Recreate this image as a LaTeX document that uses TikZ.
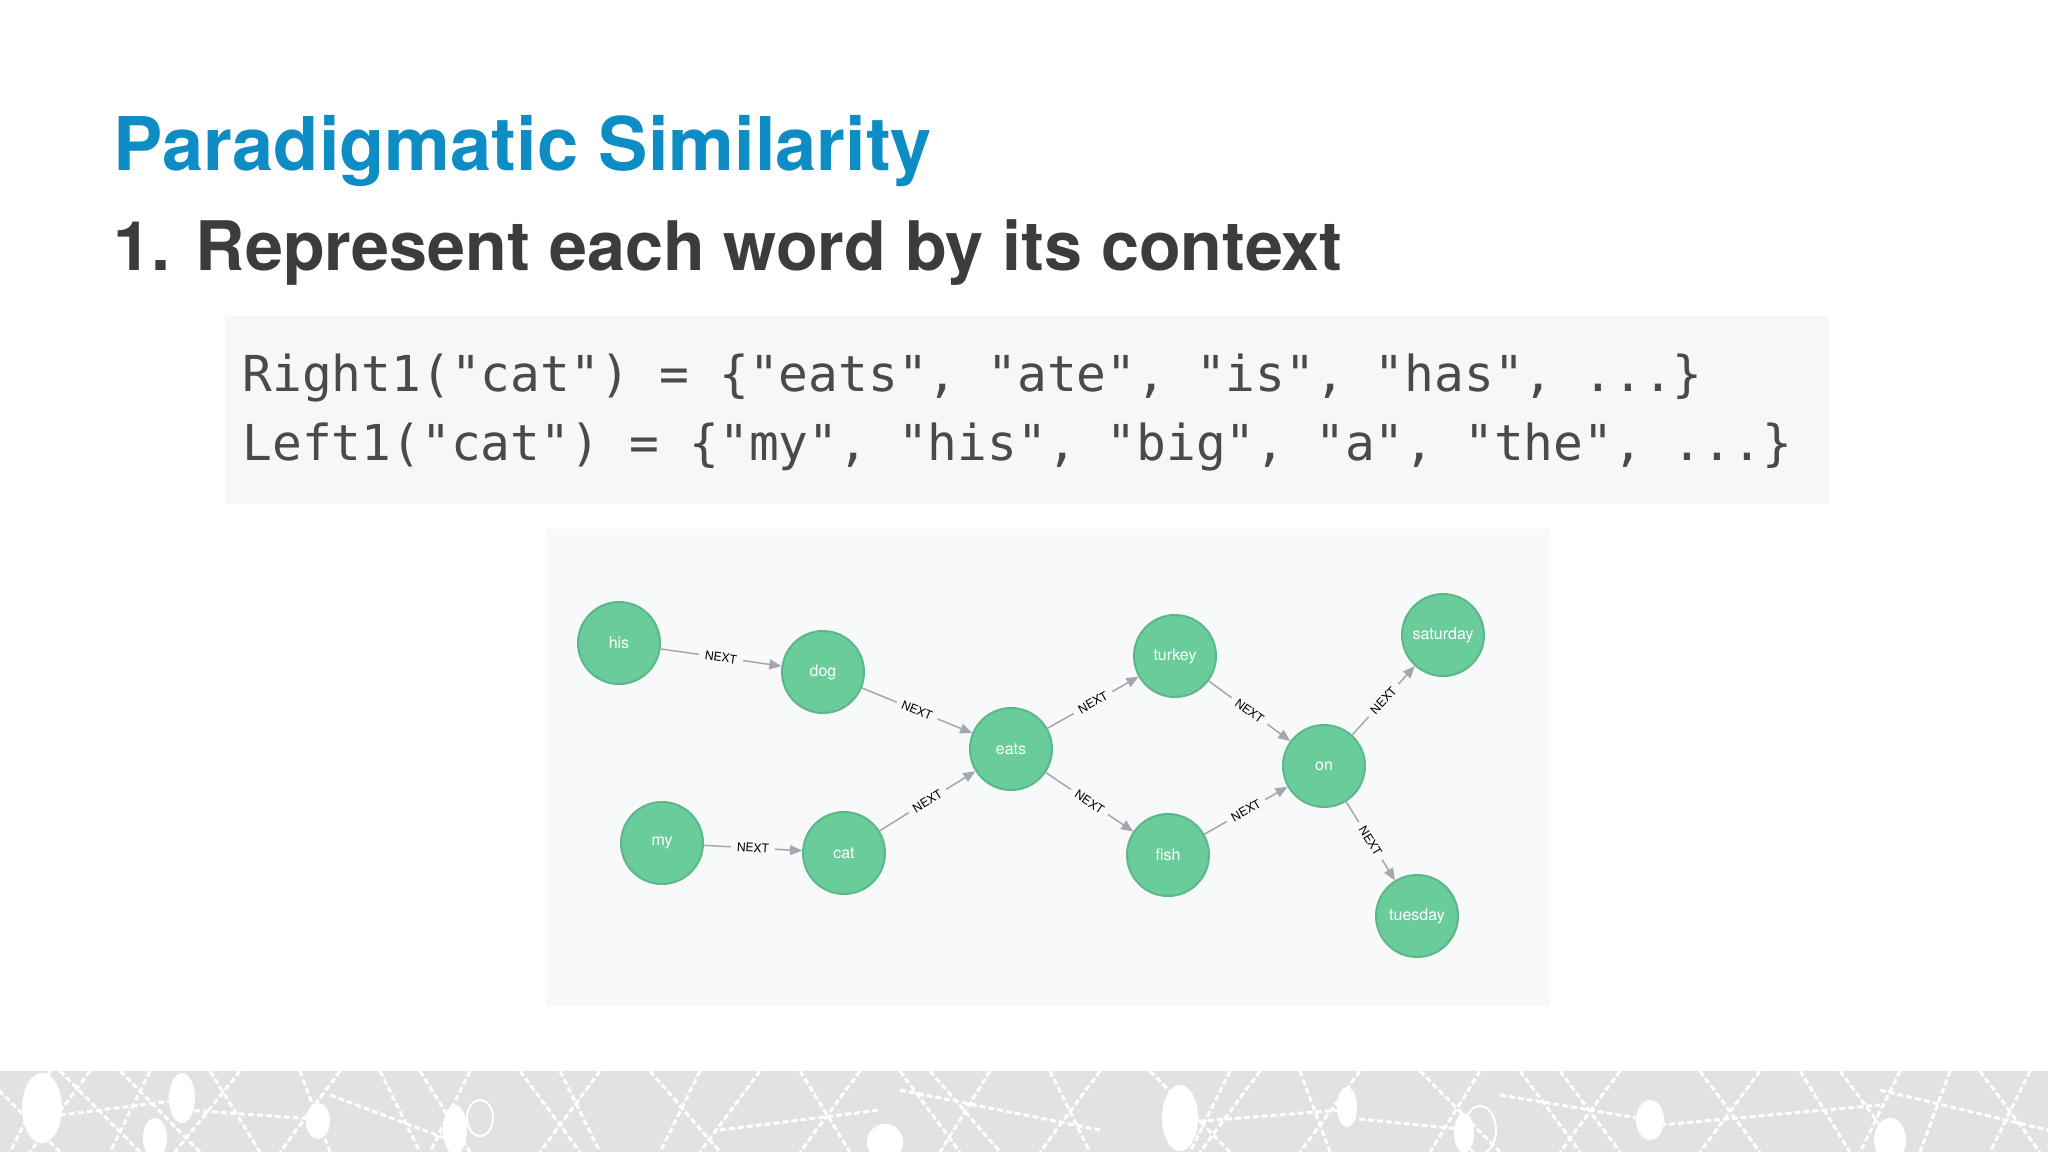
\documentclass[tikz,border=0pt]{standalone}
\usepackage{fontspec}
\setmainfont{TeX Gyre Heros}
\newfontfamily\codefont{DejaVu Sans Mono}
\usepackage{tikz}
\usetikzlibrary{arrows.meta,positioning}

\definecolor{titleblue}{RGB}{14,140,196}
\definecolor{subgray}{RGB}{60,60,60}
\definecolor{codegray}{RGB}{74,74,74}
\definecolor{codebg}{RGB}{247,247,248}
\definecolor{panelbg}{RGB}{248,249,251}
\definecolor{nodegreen}{RGB}{106,204,155}
\definecolor{nodeedge}{RGB}{92,184,137}
\definecolor{linkgray}{RGB}{166,166,174}
\definecolor{bandgray}{RGB}{226,226,226}

\tikzset{
  word/.style = {circle, fill = nodegreen, draw = nodeedge, line width = 2pt,
    minimum size = 82pt, inner sep = 0pt, text = white,
    font = \fontsize{16}{16}\selectfont},
  link/.style = {draw = linkgray, line width = 1.5pt,
    -{Triangle[length = 12pt, width = 10pt]}},
  rel/.style = {sloped, fill = panelbg, inner xsep = 6pt, inner ysep = 1pt,
    text = black, font = \fontsize{12}{12}\selectfont},
  codeline/.style = {anchor = base west, text = codegray,
    font = \codefont\fontsize{49.5}{60}\selectfont},
  bandline/.style = {white, line width = 3pt, dash pattern = on 6pt off 3pt},
}

\begin{document}
\begin{tikzpicture}[x = 1pt, y = -1pt]
    \useasboundingbox[fill = white] (0,0) rectangle (2048,1152);

    % heading
    \node[anchor = base west, text = titleblue,
      font = \bfseries\fontsize{74}{80}\selectfont] (title) at (110,170)
      {Paradigmatic Similarity};
    \node[anchor = base west, text = subgray,
      font = \bfseries\fontsize{68.3}{72}\selectfont] (subtitle) at (110,270)
      {1. Represent each word by its context};

    % code box
    \fill[codebg] (225,316) rectangle (1829,504);
    \node[codeline] (right1) at (239,391)
      {Right1("cat") = \{"eats", "ate", "is", "has", ...\}};
    \node[codeline] (left1) at (239,460)
      {Left1("cat") = \{"my", "his", "big", "a", "the", ...\}};

    % graph panel
    \fill[panelbg] (546,529) rectangle (1550,1006);

    \begin{scope}[on grid]
      \node[word] (his) at (619,643) {his};
      \node[word, below right = 29pt and 204pt of his] (dog) {dog};
      \node[word, below right = 77pt and 188pt of dog] (eats) {eats};
      \node[word, below left = 104pt and 167pt of eats] (cat) {cat};
      \node[word, above left = 10pt and 182pt of cat] (my) {my};
      \node[word, above right = 93pt and 164pt of eats] (turkey) {turkey};
      \node[word, below right = 106pt and 157pt of eats] (fish) {fish};
      \node[word, below right = 110pt and 149pt of turkey] (on) {on};
      \node[word, above right = 131pt and 119pt of on] (saturday) {saturday};
      \node[word, below right = 150pt and 93pt of on] (tuesday) {tuesday};
    \end{scope}

    \foreach \a/\b in {his/dog, dog/eats, my/cat, cat/eats, eats/turkey,
        eats/fish, turkey/on, fish/on, on/saturday, on/tuesday}
      \draw[link] (\a) -- node[rel] {NEXT} (\b);

    % footer band
    \begin{scope}
      \clip (0,1071) rectangle (2048,1152);
      \fill[bandgray] (0,1071) rectangle (2048,1152);
      \foreach \a/\b in {-20/60, 50/10, 60/140, 90/30, 120/200, 150/110,
          210/260, 240/175, 300/330, 340/280, 380/420, 420/470, 470/430,
          520/580, 560/600, 600/540, 650/720, 700/660, 760/700, 800/850,
          860/800, 900/960, 930/1000, 990/940, 1050/1090, 1100/1040,
          1150/1230, 1230/1190, 1260/1200, 1300/1330, 1360/1300, 1420/1500,
          1480/1430, 1520/1580, 1560/1620, 1620/1560, 1700/1760, 1760/1700,
          1800/1850, 1840/1900, 1900/1860, 1950/1920, 1980/2040, 2030/1990}
        \draw[bandline] (\a,1071) -- (\b,1152);
      \draw[bandline] (60,1115) -- (180,1100) (185,1110) -- (330,1120)
        (330,1095) -- (450,1140) (720,1130) -- (880,1110)
        (900,1090) -- (1100,1130) (1190,1122) -- (1340,1110)
        (1350,1118) -- (1470,1130) (1500,1095) -- (1650,1120)
        (1660,1125) -- (1880,1105) (1880,1090) -- (2048,1130);
      \foreach \x/\y/\rx/\ry in {42/1108/20/35, 182/1098/13/25,
          155/1138/12/20, 318/1121/12/18, 455/1130/12/25, 885/1142/18/18,
          1180/1118/18/33, 1347/1107/10/20, 1464/1133/10/20,
          1650/1120/14/20, 1890/1140/16/22}
        \fill[white] (\x,\y) ellipse [x radius = \rx pt, y radius = \ry pt];
      \draw[white, line width = 2pt] (480,1118) ellipse [x radius = 13pt, y radius = 18pt]
        (1480,1130) ellipse [x radius = 16pt, y radius = 24pt];
    \end{scope}
\end{tikzpicture}
\end{document}
